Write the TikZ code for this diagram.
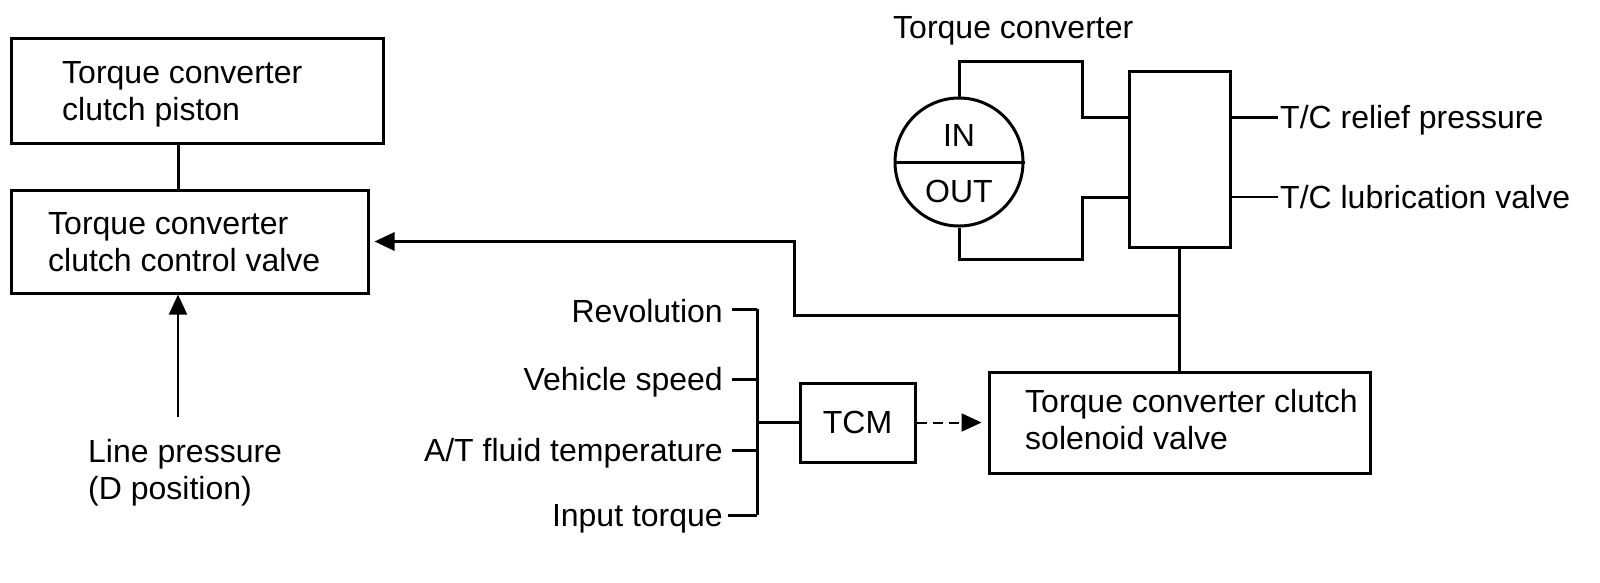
\documentclass[tikz,border=0pt]{standalone}
\usepackage{fontspec}
\setmainfont{Liberation Sans}
\usetikzlibrary{arrows.meta}
\begin{document}
\begin{tikzpicture}[x=1pt,y=-1pt,
  box/.style={draw,line width=3pt,inner sep=0pt},
  txt/.style={inner sep=0pt,font=\fontsize{32}{37}\selectfont,align=left},
  wire/.style={line width=3pt},
  thinwire/.style={line width=1.8pt},
  tip/.style={-{Triangle[length=20pt,width=18pt]}}]
\fill[white] (0,0) rectangle (1600,582);
\useasboundingbox (0,0) rectangle (1600,582);

% boxes
\node[box,minimum width=372pt,minimum height=105pt] (cp) at (197,90.5) {};
\node[box,minimum width=357pt,minimum height=103pt] (ccv) at (189.5,241.5) {};
\node[box,minimum width=381pt,minimum height=101pt] (sol) at (1179.5,422.5) {};
\node[box,txt,minimum width=115pt,minimum height=79pt] (tcm) at (857.5,422.5) {TCM};
\node[box,minimum width=101pt,minimum height=176pt] (vb) at (1179.5,159) {};
\node[draw,circle,line width=3pt,minimum size=128pt,inner sep=0pt] (tc) at (959,162) {};

% box texts
\node[txt,anchor=north west] (cpt) at (62,61) {Torque converter\\clutch piston};
\node[txt,anchor=north west] (ccvt) at (48,212) {Torque converter\\clutch control valve};
\node[txt,anchor=north west] (solt) at (1025,389) {Torque converter clutch\\solenoid valve};
\node[txt,anchor=north west] (lpt) at (88,439) {Line pressure\\(D position)};
\node[txt,anchor=base west] (title) at (893,38) {Torque converter};
\node[txt] (in) at (959,135) {IN};
\node[txt] (out) at (959,191) {OUT};
\node[txt,anchor=base west] (rel) at (1280,128) {T/C relief pressure};
\node[txt,anchor=base west] (lub) at (1280,208) {T/C lubrication valve};

% converter circle divider
\draw[wire] (tc.west) -- (tc.east);

% brackets between converter and valve body
\coordinate (b1) at (1082,61);
\coordinate (b2) at (1082,259);
\coordinate (v1) at (1129,117);
\coordinate (v2) at (1129,197);
\draw[wire] (tc.north) |- (b1) |- (v1);
\draw[wire] (tc.south) |- (b2) |- (v2);

% outputs on the right
\coordinate (v3) at (1230,117);
\coordinate (v4) at (1230,197);
\coordinate (r1) at (1278,117);
\coordinate (r2) at (1278,197);
\draw[wire] (v3) -- (r1);
\draw[thinwire] (v4) -- (r2);

% valve body to solenoid
\draw[wire] (vb.south) -- (vb.south |- sol.north);

% feed to control valve
\coordinate (j) at (1179.5,315);
\coordinate (k) at (794,315);
\draw[wire,tip,shorten >=5pt] (j) -- (k) |- (ccv.east);

% piston to control valve
\coordinate (lp) at (178,417);
\draw[wire] (cp.south -| lp) -- (ccv.north -| lp);
\draw[thinwire,tip] (lp) -- (lp |- ccv.south);

% TCM inputs
\node[txt,anchor=base east] (rev) at (723,322) {Revolution};
\node[txt,anchor=base east] (vs) at (723,390) {Vehicle speed};
\node[txt,anchor=base east] (atf) at (723,461) {A/T fluid temperature};
\node[txt,anchor=base east] (it) at (723,526) {Input torque};
\coordinate (s1) at (757,309);
\coordinate (s2) at (757,379);
\coordinate (s3) at (757,450);
\coordinate (s4) at (757,515);
\coordinate (t1) at (732,309);
\coordinate (t2) at (732,379);
\coordinate (t3) at (732,450);
\coordinate (t4) at (728,515);
\draw[wire] (t1) -- (s1);
\draw[wire] (t2) -- (s2);
\draw[wire] (t3) -- (s3);
\draw[wire] (t4) -- (s4);
\draw[wire] (s1) -- (s4);
\draw[wire] (s1 |- tcm.west) -- (tcm.west);

% TCM to solenoid
\draw[line width=2pt,dash pattern=on 10pt off 6pt,tip,shorten >=6pt] (tcm.east) -- (sol.west);
\end{tikzpicture}
\end{document}
